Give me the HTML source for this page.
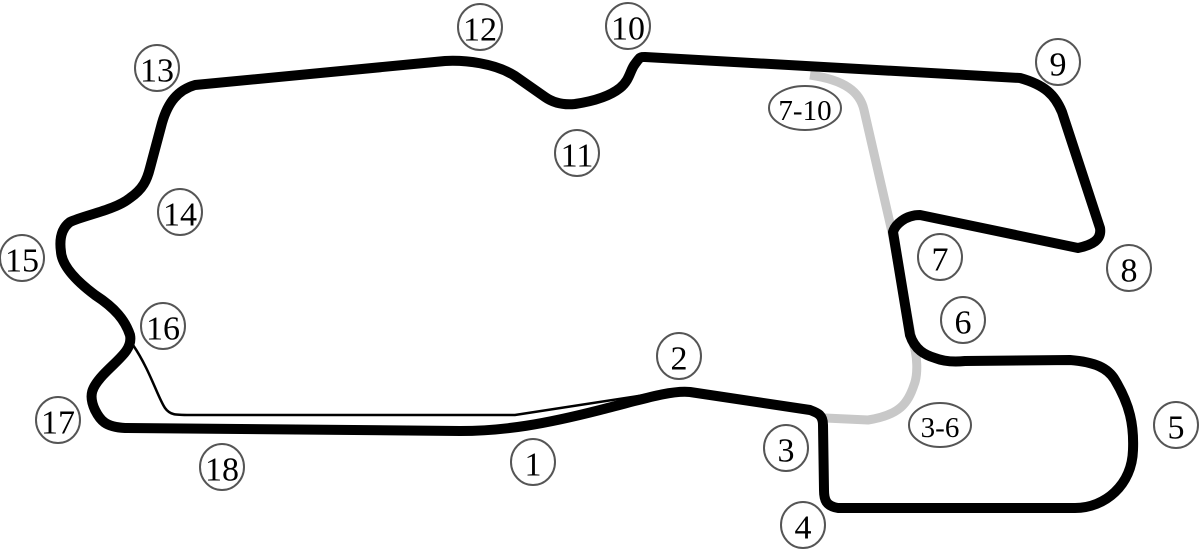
<!DOCTYPE html>
<html><head><meta charset="utf-8"><style>
html,body{margin:0;padding:0;background:#fff;}
svg{display:block}
text{font-family:"Liberation Serif","DejaVu Serif",serif;font-size:34px;text-anchor:middle;dominant-baseline:central;fill:#000}
</style></head><body>
<svg width="1200" height="549" viewBox="0 0 1200 549" xmlns="http://www.w3.org/2000/svg">
<path d="M810,75 C845,80 860,92 864,110 L892,232 L912,340 C918,355 918,375 914,385 C908,403 900,415 868,420 L825,418" fill="none" stroke="#c8c8c8" stroke-width="9" stroke-linejoin="round"/>
<path d="M133,345 C150,370 158,398 165,408 C170,415 175,415 190,415 L515,415 L645,395" fill="none" stroke="#000" stroke-width="2.5"/>
<path d="M645,57 L1020,78 C1045,85 1055,95 1062,112 L1100,228 C1102,240 1092,245 1078,248 L920,215 C905,215 895,225 893,232 L910,335 C915,350 925,355 935,358 C945,362 955,362 965,361 L1070,360 C1095,362 1108,368 1115,380 C1130,405 1134,425 1133,450 C1132,485 1105,508 1075,508 L838,508 C826,506 824,500 824,490 L823,425 C823,415 818,413 810,410 L690,392 C670,390 640,400 600,410 C545,424 505,431 460,431 L125,428 C105,427 100,420 95,410 C88,395 92,387 103,375 C118,359 133,350 130,335 C125,320 115,308 95,295 C75,280 62,265 61,252 C59,238 62,228 70,222 C85,215 115,210 130,198 C143,189 147,180 150,168 L162,123 C168,102 178,90 195,85 L445,61 C465,60 495,63 515,76 L545,97 C555,104 565,105 575,104 C595,101 610,96 620,88 C630,80 630,70 635,64 C640,57 640,57 645,57 Z" fill="none" stroke="#000" stroke-width="10" stroke-linejoin="round"/>
<g fill="#fff" stroke="#555" stroke-width="2">
<ellipse cx="480" cy="27" rx="22" ry="23"/>
<ellipse cx="628" cy="26" rx="22" ry="23"/>
<ellipse cx="157" cy="68" rx="22" ry="23"/>
<ellipse cx="577" cy="153" rx="22" ry="23"/>
<ellipse cx="1058" cy="62" rx="22" ry="23"/>
<ellipse cx="805" cy="108" rx="36" ry="22"/>
<ellipse cx="180" cy="212" rx="22" ry="23"/>
<ellipse cx="22" cy="258" rx="22" ry="23"/>
<ellipse cx="163" cy="326" rx="22" ry="23"/>
<ellipse cx="940" cy="257" rx="22" ry="23"/>
<ellipse cx="1129" cy="268" rx="22" ry="23"/>
<ellipse cx="963" cy="320" rx="22" ry="23"/>
<ellipse cx="679" cy="356" rx="22" ry="23"/>
<ellipse cx="1176" cy="425" rx="22" ry="23"/>
<ellipse cx="940" cy="425" rx="31" ry="22"/>
<ellipse cx="786" cy="448" rx="22" ry="23"/>
<ellipse cx="58" cy="420" rx="22" ry="23"/>
<ellipse cx="222" cy="467" rx="22" ry="23"/>
<ellipse cx="533" cy="462" rx="22" ry="23"/>
<ellipse cx="803" cy="525" rx="22" ry="23"/>
</g>
<text x="480" y="30">12</text>
<text x="628" y="29">10</text>
<text x="157" y="71">13</text>
<text x="577" y="156">11</text>
<text x="1058" y="65">9</text>
<text x="805" y="111" style="font-size:29px">7-10</text>
<text x="180" y="215">14</text>
<text x="22" y="261">15</text>
<text x="163" y="329">16</text>
<text x="940" y="260">7</text>
<text x="1129" y="271">8</text>
<text x="963" y="323">6</text>
<text x="679" y="359">2</text>
<text x="1176" y="428">5</text>
<text x="940" y="428" style="font-size:29px">3-6</text>
<text x="786" y="451">3</text>
<text x="58" y="423">17</text>
<text x="222" y="470">18</text>
<text x="533" y="465">1</text>
<text x="803" y="528">4</text>
</svg>
</body></html>
